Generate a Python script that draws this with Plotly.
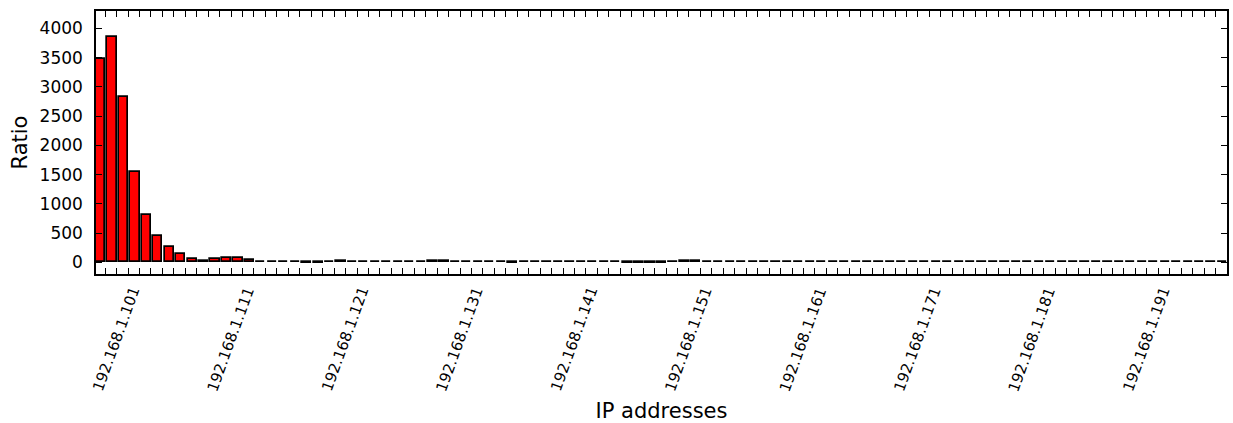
import plotly.graph_objects as go

# ---- data -------------------------------------------------------------
ip_addresses = [f"192.168.1.{n}" for n in range(100, 199)]

ratio_values = [
    3480, 3855, 2825, 1550, 805, 450, 265, 140, 58, 30, 52, 80, 74, 45,
    12, 8, 10, 6, -8, -10, 5, 15, 12, 8, 5, 3, 6, 10, 12, 15,
    14, 8, 6, 10, 8, 4, -5, 2, 8, 12, 10, 6, 4, 8, 6, 2, -6, -10, -15, -18,
    8, 25, 22, 10, 8, 6, 10, 4, 6, 8, 10, 5, 3, 6, 8, 4, 6, 9, 5, 7,
    6, 4, 8, 5, 7, 3, 6, 8, 5, 4, 9, 6, 5, 3, 7, 6, 8, 4, 5, 6,
    3, 7, 5, 4, 6, 8, 5, 3, 6,
]

y_ticks = [0, 500, 1000, 1500, 2000, 2500, 3000, 3500, 4000]
label_start = 1
label_step = 10

# ---- geometry (matplotlib-like edge-aligned bars) ---------------------
bar_width = 0.8
n = len(ratio_values)
idx = list(range(n))
bar_centers = [i + bar_width / 2 for i in idx]
tick_positions = [i + bar_width for i in idx]

FONT = "DejaVu Sans"

fig = go.Figure()
fig.add_trace(go.Bar(
    x=bar_centers,
    y=ratio_values,
    width=bar_width,
    marker=dict(color="#ff0000", line=dict(color="#000000", width=1.7)),
    hovertext=ip_addresses,
    showlegend=False,
))

# rotated x tick labels (every 10th address), centred like matplotlib
for i in range(label_start, n, label_step):
    fig.add_annotation(
        x=tick_positions[i], xref="x",
        y=0, yref="paper",
        text=ip_addresses[i],
        textangle=-70,
        showarrow=False,
        xanchor="center", yanchor="top",
        yshift=-8,
        font=dict(family=FONT, size=15, color="#000000"),
    )

fig.update_layout(
    width=1233, height=423,
    margin=dict(l=96, r=4, t=11, b=149),
    paper_bgcolor="white",
    plot_bgcolor="white",
    font=dict(family=FONT, color="#000000"),
    bargap=0,
)

fig.update_xaxes(
    range=[0, n - 1 + bar_width],
    tickmode="array",
    tickvals=tick_positions,
    ticktext=[""] * n,
    ticks="inside", ticklen=6, tickwidth=1.2, tickcolor="#000000",
    showline=True, linecolor="#000000", linewidth=1.5, mirror="ticks",
    showgrid=False, zeroline=False,
    title=dict(text="IP addresses", font=dict(family=FONT, size=21, color="#000000"),
               standoff=128),
)

fig.update_yaxes(
    range=[-200, 4300],
    tickmode="array",
    tickvals=y_ticks,
    ticktext=[str(v) for v in y_ticks],
    ticks="inside", ticklen=6, tickwidth=1.2, tickcolor="#000000",
    tickfont=dict(family=FONT, size=17, color="#000000"),
    ticklabelstandoff=8,
    showline=True, linecolor="#000000", linewidth=1.5, mirror="ticks",
    showgrid=False, zeroline=False,
    title=dict(text="Ratio", font=dict(family=FONT, size=21, color="#000000"),
               standoff=6),
)

fig.write_html(
    "out.html",
    config={"displayModeBar": False},
    post_script="document.body.style.margin='0';document.body.style.overflow='hidden';",
)
